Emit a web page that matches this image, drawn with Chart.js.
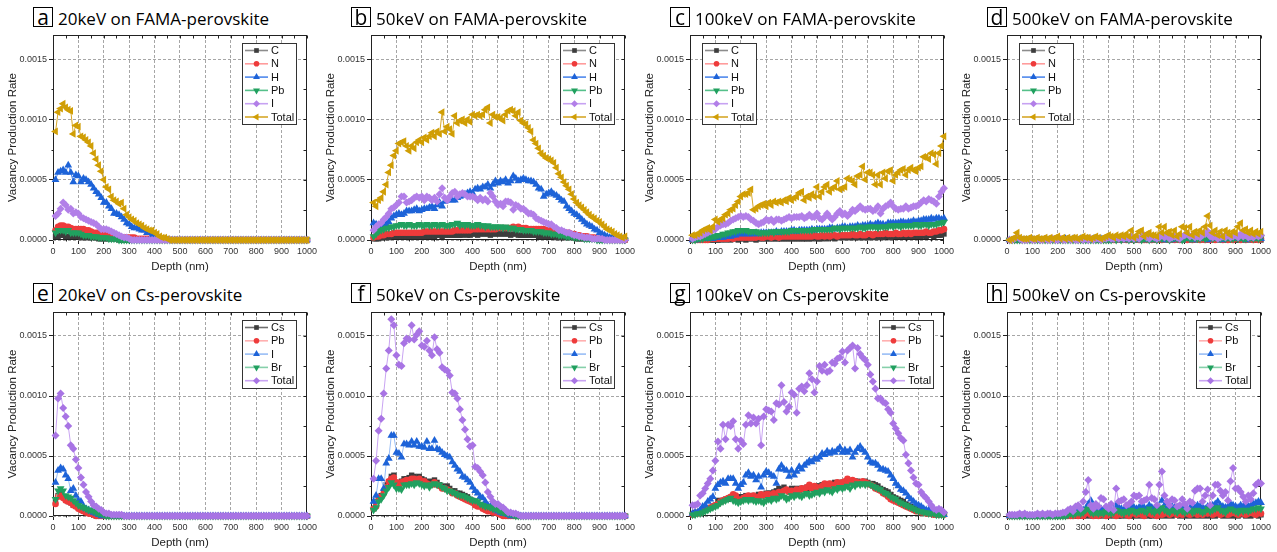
<!DOCTYPE html>
<html>
<head>
<meta charset="utf-8">
<script src="https://cdn.jsdelivr.net/npm/chart.js@4.4.0/dist/chart.umd.min.js"></script>
<style>
body { margin: 0; background: #fff; width: 1277px; height: 552px; position: relative; overflow: hidden; font-family: "Open Sans", sans-serif; }
.panel { position: absolute; width: 319px; height: 276px; }
.panel canvas { position: absolute; left: 0; top: 0; }
.letter { position: absolute; left: 33px; top: 7px; width: 20px; height: 20px; box-sizing: border-box; border: 1px solid #000; font-size: 21px; line-height: 18px; text-align: center; color: #000; }
.ttl { position: absolute; left: 58px; top: 10px; font-size: 17px; line-height: 17px; white-space: nowrap; color: #000; }
</style>
</head>
<body>
<script>
// depth in nm, one value every 10 nm
const DEPTH = [
  10,20,30,40,50,60,70,80,90,100,
  110,120,130,140,150,160,170,180,190,200,
  210,220,230,240,250,260,270,280,290,300,
  310,320,330,340,350,360,370,380,390,400,
  410,420,430,440,450,460,470,480,490,500,
  510,520,530,540,550,560,570,580,590,600,
  610,620,630,640,650,660,670,680,690,700,
  710,720,730,740,750,760,770,780,790,800,
  810,820,830,840,850,860,870,880,890,900,
  910,920,930,940,950,960,970,980,990,1000
];

// all rates below are in units of 1e-5
const UNIT = 1e-5;
const X_TICKS = [0,100,200,300,400,500,600,700,800,900,1000];
const X_MINOR = [50,150,250,350,450,550,650,750,850,950];
const Y_TICKS = [0, 0.0005, 0.0010, 0.0015];
const Y_MINOR = [0.00025, 0.00075, 0.00125];

const SERIES_FAMA = ['C', 'N', 'H', 'Pb', 'I', 'Total'];
const SERIES_CS = ['Cs', 'Pb', 'I', 'Br', 'Total'];

// ---- a: 20keV on FAMA-perovskite
const A_C = [
  3,3,4,4,3,3,3,3,3,3, 2,2,2,2,2,2,2,1,1,1, 1,1,1,1,1,0,0,0,0,0,
  0,0,0,0,0,0,0,0,0,0, 0,0,0,0,0,0,0,0,0,0, 0,0,0,0,0,0,0,0,0,0,
  0,0,0,0,0,0,0,0,0,0, 0,0,0,0,0,0,0,0,0,0, 0,0,0,0,0,0,0,0,0,0,
  0,0,0,0,0,0,0,0,0,0
];
const A_N = [
  8,11,12,12,11,11,10,9,9,9, 9,9,8,8,7,6,6,6,5,5, 4,4,3,3,3,2,2,2,2,2,
  2,2,1,1,1,1,1,1,1,1, 0,0,0,0,0,0,0,0,0,0, 0,0,0,0,0,0,0,0,0,0,
  0,0,0,0,0,0,0,0,0,0, 0,0,0,0,0,0,0,0,0,0, 0,0,0,0,0,0,0,0,0,0,
  0,0,0,0,0,0,0,0,0,0
];
const A_H = [
  50,56,57,58,56,62,56,48,54,53, 48,51,50,48,46,43,40,38,35,31,
  31,28,26,22,22,21,19,17,14,13, 11,10,10,9,8,8,6,6,4,3,
  2,1,0,0,0,0,0,0,0,0, 0,0,0,0,0,0,0,0,0,0, 0,0,0,0,0,0,0,0,0,0,
  0,0,0,0,0,0,0,0,0,0, 0,0,0,0,0,0,0,0,0,0, 0,0,0,0,0,0,0,0,0,0
];
const A_PB = [
  6,8,8,8,7,8,6,6,6,6, 5,4,4,4,3,3,3,2,2,2, 2,1,1,1,1,0,0,0,0,0,
  0,0,0,0,0,0,0,0,0,0, 0,0,0,0,0,0,0,0,0,0, 0,0,0,0,0,0,0,0,0,0,
  0,0,0,0,0,0,0,0,0,0, 0,0,0,0,0,0,0,0,0,0, 0,0,0,0,0,0,0,0,0,0,
  0,0,0,0,0,0,0,0,0,0
];
const A_I = [
  20,22,26,31,29,25,26,22,23,22, 19,18,17,16,15,14,13,11,9,9,
  9,8,7,6,5,4,3,2,2,1, 0,0,0,0,0,0,0,0,0,0, 0,0,0,0,0,0,0,0,0,0,
  0,0,0,0,0,0,0,0,0,0, 0,0,0,0,0,0,0,0,0,0, 0,0,0,0,0,0,0,0,0,0,
  0,0,0,0,0,0,0,0,0,0, 0,0,0,0,0,0,0,0,0,0
];
const A_TOT = [
  90,106,109,113,110,108,107,88,95,94, 86,85,83,81,78,72,67,62,57,50,
  44,42,36,33,32,30,31,26,21,19, 17,16,14,13,12,10,9,8,8,6,
  5,3,2,2,1,0,0,0,0,0, 0,0,0,0,0,0,0,0,0,0, 0,0,0,0,0,0,0,0,0,0,
  0,0,0,0,0,0,0,0,0,0, 0,0,0,0,0,0,0,0,0,0, 0,0,0,0,0,0,0,0,0,0
];

// ---- b: 50keV on FAMA-perovskite
const B_C = [
  1,1,1,2,2,2,2,3,3,3, 3,3,3,3,3,3,3,3,3,3, 3,4,3,4,3,4,4,3,4,4,
  4,4,4,4,4,4,5,4,4,5, 5,4,5,5,5,5,4,5,5,5, 5,5,5,5,4,5,5,4,4,4,
  4,4,4,4,4,3,3,3,3,3, 3,3,2,2,2,2,2,2,2,2, 1,1,1,1,1,1,1,1,1,0,
  0,0,0,0,0,0,0,0,0,0
];
const B_N = [
  2,3,3,4,4,5,5,5,6,6, 6,6,6,6,6,6,6,6,6,6, 7,7,7,7,7,7,7,7,7,7,
  7,7,8,8,8,8,8,8,8,9, 9,9,9,9,9,9,9,9,9,10, 10,10,10,10,10,11,10,11,10,10,
  10,9,9,9,9,9,9,9,8,8, 8,8,7,7,7,6,6,6,5,5, 4,4,3,3,3,2,2,2,1,1,
  1,1,1,0,0,0,0,0,0,0
];
const B_H = [
  14,13,9,11,12,13,15,18,20,21, 22,21,22,24,24,24,25,26,24,25,
  26,26,27,28,26,29,31,28,32,33, 34,33,33,35,36,37,38,39,40,39,
  42,43,42,44,44,46,43,46,49,47, 49,48,50,47,49,53,51,49,50,51,
  50,49,49,48,46,43,42,36,38,39, 40,38,37,35,33,32,28,26,24,22,
  21,19,17,15,13,12,11,9,8,6, 5,4,3,2,2,1,1,1,1,1
];
const B_PB = [
  3,5,7,8,9,10,10,11,11,12, 12,13,12,12,13,12,12,12,13,12, 12,13,12,12,13,12,12,13,12,12,
  12,13,13,14,12,13,12,13,12,12, 12,13,12,12,11,12,11,11,11,11, 11,10,11,10,10,10,9,9,9,8,
  8,8,8,7,7,7,7,6,6,6, 5,5,5,4,4,4,3,3,3,2, 2,2,2,1,1,1,1,1,0,0,
  0,0,0,0,0,0,0,0,0,0
];
const B_I = [
  8,11,13,14,17,19,22,26,27,29, 31,36,36,31,32,33,35,36,35,36,
  33,36,35,33,35,32,38,43,35,33, 36,39,40,36,38,39,38,36,36,36,
  35,33,35,33,34,32,39,36,32,29, 30,28,32,32,31,25,29,28,26,26,
  24,22,22,21,18,17,16,15,14,13, 13,11,10,8,8,7,6,6,5,4,
  4,3,3,2,2,2,1,1,1,1, 1,0,0,0,0,0,0,0,0,0
];
const B_TOT = [
  31,28,33,35,40,46,56,62,70,74, 80,81,82,78,74,78,76,81,83,81,
  85,83,86,89,86,90,88,106,90,94, 92,88,103,97,99,100,97,100,98,104,
  103,104,103,104,108,110,97,104,102,102, 101,99,104,107,108,107,103,106,99,97,
  96,93,90,83,80,76,72,70,68,67, 66,64,60,55,52,48,45,42,38,34,
  31,29,27,25,23,21,19,18,16,15, 13,11,9,8,7,5,4,3,2,3
];

// ---- c: 100keV on FAMA-perovskite
const C_C = [
  0,0,0,0,0,0,0,0,0,0, 0,0,1,0,1,0,1,1,0,1, 1,0,1,1,1,0,1,1,1,1,
  1,1,1,1,1,1,1,1,1,1, 1,1,1,1,1,1,1,1,2,1, 1,1,2,1,2,2,1,2,2,2,
  2,2,2,2,2,2,2,2,2,2, 2,3,2,2,3,2,3,3,2,3, 3,3,3,3,3,3,3,3,4,3,
  3,4,3,4,4,3,4,4,4,5
];
const C_N = [
  0,0,0,0,0,0,0,1,1,1, 1,1,1,1,1,2,1,2,2,2, 2,2,2,2,2,2,3,2,2,3,
  3,2,3,3,2,3,3,3,3,3, 3,3,3,3,3,3,3,3,4,3, 3,4,3,4,3,4,4,3,4,4,
  4,4,4,5,4,4,5,4,4,5, 5,4,5,5,5,5,6,5,5,5, 6,5,5,6,5,6,5,6,6,6,
  6,6,7,6,6,7,7,8,8,9
];
const C_H = [
  0,0,0,1,1,1,1,1,1,2, 2,2,2,3,3,3,4,4,5,5, 5,5,5,5,5,6,5,6,6,6,
  6,6,6,7,6,7,7,7,7,8, 8,7,8,8,8,8,8,9,8,9, 9,9,9,9,10,10,9,10,10,11,
  11,10,11,11,11,12,11,12,12,12, 13,12,13,14,13,13,12,14,14,14, 14,14,15,15,14,15,15,16,15,16,
  16,17,17,17,18,17,18,18,17,18
];
const C_PB = [
  0,0,1,1,1,2,2,2,3,3, 4,4,5,5,6,6,7,7,8,8, 8,8,7,7,7,7,6,6,6,6,
  6,7,6,7,7,7,7,7,7,8, 8,8,8,8,8,8,8,8,9,9, 9,9,9,9,9,9,10,10,9,10,
  10,10,10,10,10,10,11,10,10,11, 11,11,11,10,11,11,11,11,12,11, 12,12,11,12,12,12,12,12,13,12,
  12,13,13,12,13,13,13,14,14,15
];
const C_I = [
  1,2,3,3,4,5,6,7,8,9, 11,12,13,13,14,16,17,18,19,20,
  19,20,19,17,16,14,13,14,15,17, 16,17,15,17,17,16,17,18,19,18,
  19,19,19,20,18,19,21,19,19,22, 18,17,19,22,19,17,19,22,24,21,
  22,20,22,25,24,26,28,26,25,26, 26,24,25,28,22,26,28,29,31,28,
  26,25,26,26,28,26,27,28,28,29, 31,33,32,34,33,32,30,36,40,43
];
const C_TOT = [
  4,4,5,6,8,9,10,8,11,17, 15,17,18,21,22,25,26,29,32,36,
  38,38,39,42,25,26,28,29,30,28, 31,29,32,31,32,31,33,32,35,33,
  35,36,39,40,33,36,35,38,36,44, 36,40,44,46,40,43,44,49,42,43,
  44,51,50,49,46,53,54,61,50,56, 56,54,46,54,46,56,51,57,58,49,
  54,56,58,59,54,58,60,58,57,60, 61,69,69,67,72,71,63,72,78,86
];

// ---- d: 500keV on FAMA-perovskite
const D_C = [
  0,0,0,0,0,0,0,0,0,0, 0,0,0,0,0,0,0,0,0,0, 0,0,0,0,0,0,0,0,0,0,
  0,0,0,0,0,0,0,0,0,0, 0,0,1,0,0,1,0,0,1,0, 0,1,0,0,1,0,1,0,0,1,
  0,1,0,1,0,0,1,0,1,0, 0,1,0,0,1,0,1,0,0,1, 0,1,0,1,0,0,1,0,1,0,
  0,1,0,1,0,1,0,0,1,0
];
const D_N = [
  0,0,0,0,0,0,0,0,0,0, 0,0,0,0,0,0,0,0,0,0, 0,0,0,0,0,0,0,0,0,0,
  0,0,0,0,0,0,0,0,0,0, 1,0,0,1,0,1,0,0,1,0, 1,0,1,0,0,1,0,1,0,1,
  0,1,1,0,1,0,1,0,1,1, 0,1,0,1,1,0,1,0,1,0, 1,0,1,1,0,1,0,1,0,1,
  1,0,1,0,1,1,0,1,0,1
];
const D_H = [
  0,0,0,0,0,0,0,0,0,0, 0,0,0,0,0,0,0,0,0,0, 0,0,1,0,0,1,0,0,1,0,
  0,1,0,1,0,0,1,0,1,0, 1,0,1,0,1,1,0,1,0,1, 1,0,1,1,0,1,1,0,1,1,
  1,0,1,1,0,1,1,1,0,1, 1,1,0,1,1,2,1,1,0,1, 1,2,1,1,0,1,2,1,1,1,
  2,1,1,0,2,1,1,2,1,1
];
const D_PB = [
  0,0,0,0,0,0,0,0,0,0, 0,0,0,0,0,0,0,0,0,0, 0,0,0,0,0,0,0,0,0,0,
  0,0,0,0,0,0,0,0,0,0, 0,1,0,1,0,1,1,0,1,0, 1,1,0,1,1,0,1,1,0,1,
  1,2,1,0,1,2,1,1,0,1, 2,1,1,2,1,1,2,1,2,3, 1,2,1,1,2,1,2,1,1,2,
  1,2,1,1,2,2,1,2,1,2
];
const D_I = [
  0,0,1,3,1,0,0,0,1,0, 0,1,0,0,1,0,0,1,0,0, 1,0,0,1,0,1,0,0,1,0,
  1,0,1,0,1,1,0,1,1,2, 1,1,2,1,2,1,2,1,3,1, 2,1,3,4,2,1,3,2,1,2,
  5,2,4,1,2,3,2,1,3,4, 5,3,4,2,3,2,4,5,7,3, 2,3,1,2,3,2,4,2,3,4,
  2,5,3,4,2,3,2,4,3,4
];
const D_TOT = [
  0,1,2,6,2,1,1,1,2,1, 1,2,1,1,2,1,2,1,2,3, 1,2,1,2,1,2,2,1,2,3,
  2,2,1,2,3,2,1,2,3,4, 3,2,4,3,4,3,5,3,8,2, 4,7,8,3,5,6,4,4,3,11,
  6,11,6,7,4,8,3,5,11,10, 6,11,4,7,5,8,6,11,20,12, 6,8,4,7,3,8,6,4,7,6,
  11,14,8,9,6,8,5,7,5,7
];

// ---- e: 20keV on Cs-perovskite
const E_CS = [
  12,17,19,16,14,12,11,9,8,7, 6,4,3,3,2,1,0,0,0,0, 0,0,0,0,0,0,0,0,0,0,
  0,0,0,0,0,0,0,0,0,0, 0,0,0,0,0,0,0,0,0,0, 0,0,0,0,0,0,0,0,0,0,
  0,0,0,0,0,0,0,0,0,0, 0,0,0,0,0,0,0,0,0,0, 0,0,0,0,0,0,0,0,0,0,
  0,0,0,0,0,0,0,0,0,0
];
const E_PB = [
  10,16,17,15,13,12,11,9,8,6, 5,4,3,2,2,1,0,0,0,0, 0,0,0,0,0,0,0,0,0,0,
  0,0,0,0,0,0,0,0,0,0, 0,0,0,0,0,0,0,0,0,0, 0,0,0,0,0,0,0,0,0,0,
  0,0,0,0,0,0,0,0,0,0, 0,0,0,0,0,0,0,0,0,0, 0,0,0,0,0,0,0,0,0,0,
  0,0,0,0,0,0,0,0,0,0
];
const E_I = [
  28,38,40,39,34,31,21,23,17,13, 12,8,6,5,4,3,2,1,0,0, 0,0,0,0,0,0,0,0,0,0,
  0,0,0,0,0,0,0,0,0,0, 0,0,0,0,0,0,0,0,0,0, 0,0,0,0,0,0,0,0,0,0,
  0,0,0,0,0,0,0,0,0,0, 0,0,0,0,0,0,0,0,0,0, 0,0,0,0,0,0,0,0,0,0,
  0,0,0,0,0,0,0,0,0,0
];
const E_BR = [
  14,21,23,21,17,16,15,13,11,9, 8,7,6,5,5,4,3,2,2,1, 0,0,0,0,0,0,0,0,0,0,
  0,0,0,0,0,0,0,0,0,0, 0,0,0,0,0,0,0,0,0,0, 0,0,0,0,0,0,0,0,0,0,
  0,0,0,0,0,0,0,0,0,0, 0,0,0,0,0,0,0,0,0,0, 0,0,0,0,0,0,0,0,0,0,
  0,0,0,0,0,0,0,0,0,0
];
const E_TOT = [
  67,98,102,90,83,75,59,56,47,40, 32,26,20,16,12,9,8,6,5,3, 2,2,1,1,1,1,1,0,0,0,
  0,0,0,0,0,0,0,0,0,0, 0,0,0,0,0,0,0,0,0,0, 0,0,0,0,0,0,0,0,0,0,
  0,0,0,0,0,0,0,0,0,0, 0,0,0,0,0,0,0,0,0,0, 0,0,0,0,0,0,0,0,0,0,
  0,0,0,0,0,0,0,0,0,0
];

// ---- f: 50keV on Cs-perovskite
const F_CS = [
  6,9,15,17,20,26,28,33,34,28, 27,29,31,31,32,34,33,31,33,31,
  30,28,29,27,30,28,26,25,24,25, 23,21,21,19,19,18,17,16,14,13,
  12,11,9,8,8,6,5,4,4,3, 3,2,1,0,0,0,0,0,0,0,
  0,0,0,0,0,0,0,0,0,0, 0,0,0,0,0,0,0,0,0,0, 0,0,0,0,0,0,0,0,0,0,
  0,0,0,0,0,0,0,0,0,0
];
const F_PB = [
  6,8,14,16,19,24,29,31,32,28, 26,28,29,30,30,31,31,30,31,29,
  29,27,26,26,28,26,25,23,23,22, 21,19,19,17,16,15,14,13,12,11,
  9,8,8,6,5,4,4,3,3,2, 1,0,0,0,0,0,0,0,0,0,
  0,0,0,0,0,0,0,0,0,0, 0,0,0,0,0,0,0,0,0,0, 0,0,0,0,0,0,0,0,0,0,
  0,0,0,0,0,0,0,0,0,0
];
const F_I = [
  12,17,31,31,23,44,48,67,67,53, 52,49,60,60,59,62,59,62,58,58,
  57,62,56,56,63,56,55,53,51,50, 49,45,42,39,37,33,32,30,28,24,
  21,19,16,15,12,9,8,6,5,4, 3,2,2,1,0,0,0,0,0,0,
  0,0,0,0,0,0,0,0,0,0, 0,0,0,0,0,0,0,0,0,0, 0,0,0,0,0,0,0,0,0,0,
  0,0,0,0,0,0,0,0,0,0
];
const F_BR = [
  5,7,12,14,17,21,24,28,26,23, 23,22,26,26,26,27,26,28,27,26,
  25,26,24,26,27,26,26,24,23,21, 21,20,19,18,17,17,16,15,14,13,
  13,12,10,9,8,8,7,6,6,5, 4,3,3,2,2,1,0,0,0,0,
  0,0,0,0,0,0,0,0,0,0, 0,0,0,0,0,0,0,0,0,0, 0,0,0,0,0,0,0,0,0,0,
  0,0,0,0,0,0,0,0,0,0
];
const F_TOT = [
  31,46,71,81,102,123,138,164,159,134, 126,125,144,148,147,159,147,151,154,142,
  141,146,138,134,149,139,136,124,122,121, 117,103,102,98,89,80,72,64,58,59,
  41,40,37,34,28,20,16,12,10,10, 8,7,5,3,3,2,2,1,0,0,
  0,0,0,0,0,0,0,0,0,0, 0,0,0,0,0,0,0,0,0,0, 0,0,0,0,0,0,0,0,0,0,
  0,0,0,0,0,0,0,0,0,0
];

// ---- g: 100keV on Cs-perovskite
const G_CS = [
  2,3,3,4,5,6,6,7,8,9, 13,12,13,14,14,15,15,15,16,16,
  16,17,16,17,17,17,18,17,18,19, 19,19,20,21,23,22,24,22,21,23,
  22,23,22,23,23,24,23,24,24,25, 25,26,25,26,27,27,28,27,28,28,
  28,29,28,29,29,29,28,28,29,28, 27,27,26,25,23,22,21,20,18,16,
  15,14,13,12,10,9,8,7,7,6, 5,5,4,3,3,3,2,2,2,2
];
const G_PB = [
  1,2,2,3,4,5,6,7,8,9, 10,12,13,14,15,16,18,17,14,13,
  15,16,17,16,17,15,16,18,17,18, 18,17,19,18,20,19,21,22,20,21,
  20,22,21,23,22,24,26,23,25,24, 23,25,27,26,27,25,26,28,27,28,
  29,31,28,30,29,28,27,29,28,27, 26,25,23,22,21,19,18,16,14,13,
  12,11,10,9,8,7,6,5,4,4, 3,3,2,2,2,1,1,1,1,1
];
const G_I = [
  2,3,3,5,8,9,12,14,16,23, 26,28,29,27,31,31,31,27,23,26,
  28,34,36,33,34,30,33,24,34,37, 36,34,33,27,39,42,39,38,33,38,
  34,37,41,39,42,44,46,45,48,47, 49,52,51,54,52,54,53,55,57,53,
  55,53,55,49,53,56,58,55,53,49, 45,44,44,42,39,39,38,37,34,31,
  27,25,22,21,19,16,14,12,10,9, 8,6,5,5,3,3,2,2,1,1
];
const G_BR = [
  1,1,2,2,3,4,5,6,7,8, 9,11,12,13,14,15,13,12,11,12,
  13,14,13,14,13,12,13,12,11,13, 14,13,15,14,15,17,16,14,15,17,
  16,18,17,16,18,19,17,18,19,20, 19,21,20,22,21,20,23,22,24,23,
  24,25,23,26,25,27,26,27,26,27, 26,25,24,23,22,20,19,18,16,15,
  14,12,11,10,9,8,7,6,5,4, 4,3,3,2,2,2,1,1,1,1
];
const G_TOT = [
  9,9,10,17,19,23,27,31,38,46, 62,56,76,64,76,75,79,64,56,63,
  60,76,84,77,82,77,81,59,83,89, 88,87,80,94,93,109,95,87,91,103,
  101,86,106,108,104,109,119,114,103,112, 125,121,126,120,121,128,127,131,132,137,
  128,138,140,142,123,140,135,132,130,126, 118,112,106,98,98,95,94,89,86,77,
  73,69,65,63,51,44,38,32,27,26, 20,17,15,12,9,6,5,6,5,3
];

// ---- h: 500keV on Cs-perovskite
const H_CS = [
  0,0,0,0,0,0,0,0,0,0, 0,0,0,0,0,0,0,0,0,0, 0,0,0,0,0,0,0,0,0,0,
  0,1,0,0,1,0,0,1,0,0, 1,0,1,0,0,1,0,1,0,0, 1,0,1,0,1,0,0,1,0,1,
  0,1,0,1,0,2,1,0,1,0, 1,0,1,0,2,0,1,0,1,0, 1,0,2,1,0,1,0,1,0,1,
  0,2,1,0,1,0,1,2,0,1
];
const H_PB = [
  0,0,0,0,0,0,0,0,0,0, 0,0,0,0,0,0,0,0,0,0, 0,0,0,0,0,0,1,0,1,0,
  2,3,1,0,1,0,2,1,0,1, 2,1,0,3,1,2,1,0,2,3, 1,2,1,0,4,2,1,3,0,2,
  1,2,3,1,2,4,1,2,1,3, 2,1,2,3,1,2,1,3,2,5, 1,2,4,1,2,3,1,2,4,2,
  1,3,2,1,2,3,2,1,4,2
];
const H_I = [
  0,0,0,0,0,0,0,0,0,0, 0,0,0,0,0,0,0,0,0,0, 0,0,0,2,3,2,4,5,4,5,
  6,10,13,7,5,4,6,5,4,6, 4,6,9,7,6,5,7,6,8,7, 6,7,8,7,6,9,7,6,8,6,
  13,9,7,6,8,7,6,8,7,6, 7,8,6,7,9,8,7,6,8,7, 9,10,12,9,8,7,8,10,9,8,
  7,9,8,9,8,9,10,11,12,11
];
const H_BR = [
  0,0,0,0,0,0,0,0,0,0, 0,0,0,0,0,0,0,0,0,0, 0,0,0,1,2,1,2,3,2,3,
  5,6,3,2,3,2,3,2,4,3, 2,3,5,4,3,2,4,3,5,4, 3,4,5,4,3,6,4,3,5,4,
  7,5,4,3,5,4,3,5,4,3, 4,5,3,4,5,4,3,4,6,4, 5,6,7,5,4,3,5,6,5,4,
  3,5,4,5,4,5,6,6,7,6
];
const H_TOT = [
  1,1,1,1,2,1,2,1,1,1, 1,2,1,2,1,2,2,1,2,2, 2,3,3,5,6,4,8,9,6,12,
  20,30,9,6,10,8,15,14,8,6, 10,5,23,12,13,14,9,10,12,17, 16,17,12,13,14,26,15,14,9,26,
  37,17,12,9,14,13,8,9,14,10, 6,12,11,21,23,23,12,17,22,9, 17,26,26,21,17,20,13,29,40,23,
  23,20,16,12,17,14,19,26,28,27
];

// marker / line styles
const STYLE_FAMA = [
  { shape: 'rect',     rot: 0,   r: 3.8, fill: '#3d3d3d', line: '#8c8c8c' },
  { shape: 'circle',   rot: 0,   r: 3.3, fill: '#ee3b3b', line: '#ff9c9c' },
  { shape: 'triangle', rot: 0,   r: 4.5, fill: '#1d63d8', line: '#4f88ec' },
  { shape: 'triangle', rot: 180, r: 4.5, fill: '#21a05f', line: '#55c08a' },
  { shape: 'rectRot',  rot: 0,   r: 4,   fill: '#b27fe8', line: '#c7a2f2' },
  { shape: 'triangle', rot: -90, r: 4.5, fill: '#d09e05', line: '#d6a82a' }
];
const STYLE_CS = [
  { shape: 'rect',     rot: 0,   r: 3.8, fill: '#3d3d3d', line: '#6e6e6e' },
  { shape: 'circle',   rot: 0,   r: 3.3, fill: '#ee3b3b', line: '#ffb0b0' },
  { shape: 'triangle', rot: 0,   r: 4.5, fill: '#1d63d8', line: '#98bdf5' },
  { shape: 'triangle', rot: 180, r: 4.5, fill: '#21a05f', line: '#86d0aa' },
  { shape: 'rectRot',  rot: 0,   r: 4,   fill: '#a874e4', line: '#c9a4f2' }
];

const PANELS = [
  { letter: 'a', title: '20keV on FAMA-perovskite', left: 0,   top: 0,   names: SERIES_FAMA, styles: STYLE_FAMA, values: [A_C, A_N, A_H, A_PB, A_I, A_TOT], legend: 'right' },
  { letter: 'b', title: '50keV on FAMA-perovskite', left: 318, top: 0,   names: SERIES_FAMA, styles: STYLE_FAMA, values: [B_C, B_N, B_H, B_PB, B_I, B_TOT], legend: 'right' },
  { letter: 'c', title: '100keV on FAMA-perovskite', left: 637, top: 0,  names: SERIES_FAMA, styles: STYLE_FAMA, values: [C_C, C_N, C_H, C_PB, C_I, C_TOT], legend: 'left' },
  { letter: 'd', title: '500keV on FAMA-perovskite', left: 954, top: 0,  names: SERIES_FAMA, styles: STYLE_FAMA, values: [D_C, D_N, D_H, D_PB, D_I, D_TOT], legend: 'left' },
  { letter: 'e', title: '20keV on Cs-perovskite', left: 0,   top: 276,   names: SERIES_CS, styles: STYLE_CS, values: [E_CS, E_PB, E_I, E_BR, E_TOT], legend: 'right' },
  { letter: 'f', title: '50keV on Cs-perovskite', left: 318, top: 276,   names: SERIES_CS, styles: STYLE_CS, values: [F_CS, F_PB, F_I, F_BR, F_TOT], legend: 'right' },
  { letter: 'g', title: '100keV on Cs-perovskite', left: 637, top: 276,  names: SERIES_CS, styles: STYLE_CS, values: [G_CS, G_PB, G_I, G_BR, G_TOT], legend: 'right' },
  { letter: 'h', title: '500keV on Cs-perovskite', left: 954, top: 276,  names: SERIES_CS, styles: STYLE_CS, values: [H_CS, H_PB, H_I, H_BR, H_TOT], legend: 'right' }
];

const FONT = "'Liberation Sans', Arial, sans-serif";

// axis box + small ticks, Origin style
const frame = {
  id: 'frame',
  beforeDatasetsDraw(chart) {
    const { ctx, chartArea: a, scales: { x, y } } = chart;
    const L = Math.round(a.left) + 0.5, R = Math.round(a.right) - 0.5;
    const T = Math.round(a.top) + 0.5, B = Math.round(a.bottom) - 0.5;
    ctx.save();
    ctx.strokeStyle = '#222';
    ctx.lineWidth = 1;
    ctx.strokeRect(L, T, R - L, B - T);
    ctx.beginPath();
    X_TICKS.concat(X_MINOR).forEach(v => {
      const px = Math.round(x.getPixelForValue(v)) + 0.5;
      ctx.moveTo(px, T); ctx.lineTo(px, T + 3);
    });
    X_MINOR.forEach(v => {
      const px = Math.round(x.getPixelForValue(v)) + 0.5;
      ctx.moveTo(px, B); ctx.lineTo(px, B + 2);
    });
    Y_TICKS.concat(Y_MINOR).forEach(v => {
      const py = Math.round(y.getPixelForValue(v)) + 0.5;
      ctx.moveTo(R, py); ctx.lineTo(R - 3, py);
    });
    Y_MINOR.forEach(v => {
      const py = Math.round(y.getPixelForValue(v)) + 0.5;
      ctx.moveTo(L, py); ctx.lineTo(L - 2, py);
    });
    ctx.stroke();
    ctx.restore();
  }
};

// legend box drawn inside the plot
const insideLegend = {
  id: 'insideLegend',
  afterDraw(chart, args, opts) {
    const { ctx, chartArea } = chart;
    const sets = chart.data.datasets;
    const rowH = 13.3, w = 54, h = Math.round(sets.length * rowH + 1);
    const x0 = Math.round(opts.side === 'left' ? chartArea.left + 12 : chartArea.right - 11 - w);
    const y0 = Math.round(chartArea.top + 8);
    ctx.save();
    ctx.fillStyle = '#fff';
    ctx.fillRect(x0, y0, w, h);
    ctx.strokeStyle = '#333';
    ctx.lineWidth = 1;
    ctx.strokeRect(x0 + 0.5, y0 + 0.5, w, h);
    sets.forEach((ds, i) => {
      const cy = y0 + 7.5 + i * rowH;
      ctx.strokeStyle = ds.borderColor;
      ctx.lineWidth = 1.6;
      ctx.beginPath();
      ctx.moveTo(x0 + 3, cy);
      ctx.lineTo(x0 + 26, cy);
      ctx.stroke();
      ctx.fillStyle = ds.pointBackgroundColor;
      ctx.strokeStyle = ds.pointBackgroundColor;
      Chart.helpers.drawPoint(ctx, { pointStyle: ds.pointStyle, rotation: ds.pointRotation, radius: ds.pointRadius - 0.5, borderWidth: 0 }, x0 + 14.5, cy);
      ctx.fillStyle = '#111';
      ctx.font = '11px ' + FONT;
      ctx.textBaseline = 'middle';
      ctx.fillText(ds.label, x0 + 29, cy + 0.5);
    });
    ctx.restore();
  }
};

PANELS.forEach(p => {
  const div = document.createElement('div');
  div.className = 'panel';
  div.style.left = p.left + 'px';
  div.style.top = p.top + 'px';
  div.innerHTML = '<div class="letter">' + p.letter + '</div><div class="ttl">' + p.title + '</div>';
  const canvas = document.createElement('canvas');
  canvas.width = 319;
  canvas.height = 276;
  div.appendChild(canvas);
  document.body.appendChild(div);

  const datasets = p.names.map((name, i) => {
    const st = p.styles[i];
    return {
      label: name,
      data: p.values[i].map((v, k) => ({ x: DEPTH[k], y: v * UNIT })),
      borderColor: st.line,
      borderWidth: 1,
      pointStyle: st.shape,
      pointRotation: st.rot,
      pointRadius: st.r,
      pointBackgroundColor: st.fill,
      pointBorderColor: st.fill,
      pointBorderWidth: 0,
      order: p.names.length - i,
      clip: false,
      tension: 0
    };
  });

  new Chart(canvas, {
    type: 'line',
    data: { datasets },
    options: {
      responsive: false,
      animation: false,
      events: [],
      layout: { padding: { left: 0, right: 11, top: p.top ? 36 : 35, bottom: 0 } },
      plugins: {
        legend: { display: false },
        tooltip: { enabled: false },
        insideLegend: { side: p.legend }
      },
      scales: {
        x: {
          type: 'linear',
          min: 0,
          max: 1000,
          ticks: { stepSize: 100, autoSkip: false, maxRotation: 0, padding: 2, color: '#333', font: { family: FONT, size: 9 }, callback: v => String(v) },
          grid: { color: '#a6a6a6', tickColor: '#222', tickLength: 4, tickBorderDash: [] },
          border: { display: false, dash: [3, 2] },
          title: { display: true, text: 'Depth (nm)', color: '#222', font: { family: FONT, size: 11.5 }, padding: { top: 0, bottom: 2 } },
          afterFit(s) { s.height = 36; }
        },
        y: {
          type: 'linear',
          min: 0,
          max: 0.0017,
          ticks: { stepSize: 0.0005, includeBounds: false, padding: 2, color: '#333', font: { family: FONT, size: 9 }, callback: v => v.toFixed(4) },
          grid: { color: '#a6a6a6', tickColor: '#222', tickLength: 4, tickBorderDash: [] },
          border: { display: false, dash: [3, 2] },
          title: { display: true, text: 'Vacancy Production Rate', color: '#222', font: { family: FONT, size: 11.5 }, padding: { top: 6, bottom: 0 } },
          afterFit(s) { s.width = 53; }
        }
      }
    },
    plugins: [frame, insideLegend]
  });
});
</script>
</body>
</html>
